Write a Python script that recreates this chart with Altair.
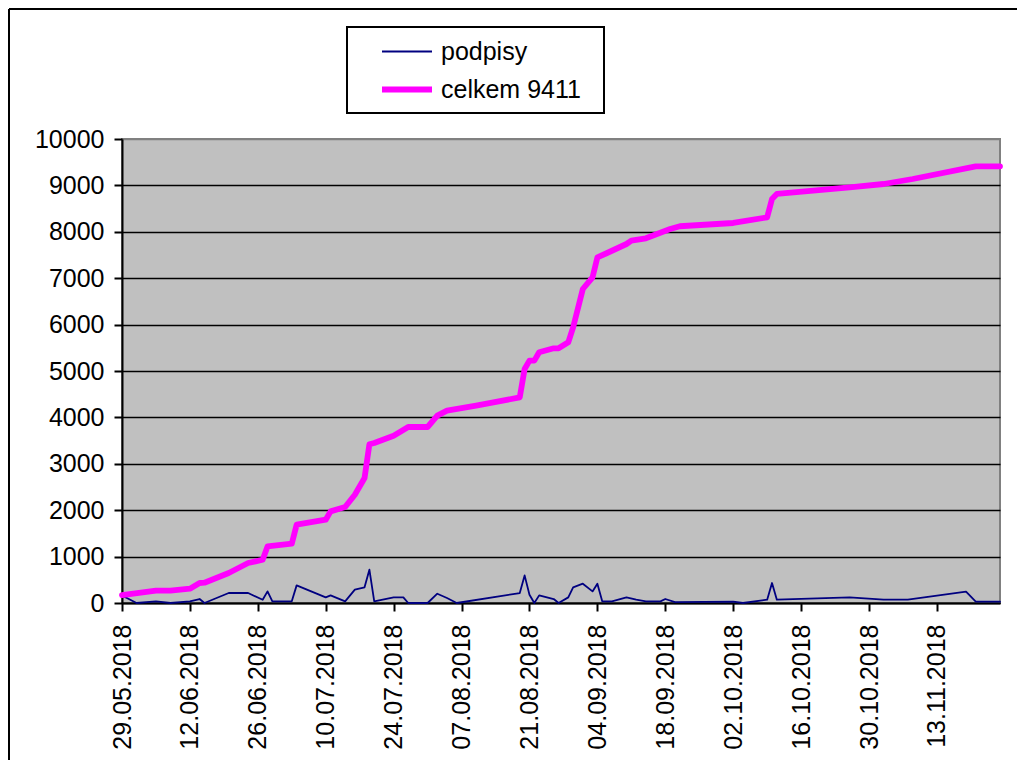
import altair as alt
import pandas as pd

FONT = "Liberation Sans, Arial, sans-serif"

series_names = ["podpisy", "celkem 9411"]
series_colors = ["#000080", "#FF00FF"]
series_widths = [1.8, 5.8]

podpisy_dates = [
    "2018-05-29", "2018-05-30", "2018-06-01", "2018-06-05", "2018-06-08", "2018-06-12",
    "2018-06-14", "2018-06-15", "2018-06-20", "2018-06-24", "2018-06-27", "2018-06-28",
    "2018-06-29", "2018-07-03", "2018-07-04", "2018-07-10", "2018-07-11", "2018-07-14",
    "2018-07-16", "2018-07-18", "2018-07-19", "2018-07-20", "2018-07-24", "2018-07-26",
    "2018-07-27", "2018-07-31", "2018-08-02", "2018-08-04", "2018-08-06", "2018-08-19",
    "2018-08-20", "2018-08-21", "2018-08-22", "2018-08-23", "2018-08-26", "2018-08-27",
    "2018-08-29", "2018-08-30", "2018-09-01", "2018-09-03", "2018-09-04", "2018-09-05",
    "2018-09-07", "2018-09-10", "2018-09-12", "2018-09-14", "2018-09-17", "2018-09-18",
    "2018-09-20", "2018-10-02", "2018-10-04", "2018-10-09", "2018-10-10", "2018-10-11",
    "2018-10-26", "2018-11-02", "2018-11-07", "2018-11-19", "2018-11-21", "2018-11-26",
]
podpisy_values = [
    160, 108, 0, 36, 0, 36,
    86, 0, 215, 215, 71, 250,
    36, 36, 380, 121, 164, 36,
    287, 337, 718, 36, 121, 121,
    0, 0, 200, 108, 0, 215,
    595, 179, 0, 164, 86, 0,
    121, 337, 416, 250, 416, 36,
    36, 121, 71, 36, 36, 86,
    20, 30, 0, 71, 431, 71,
    121, 71, 71, 244, 28, 28,
]

celkem_dates = [
    "2018-05-29", "2018-06-05", "2018-06-08", "2018-06-12", "2018-06-14", "2018-06-15",
    "2018-06-20", "2018-06-24", "2018-06-27", "2018-06-28", "2018-07-03", "2018-07-04",
    "2018-07-10", "2018-07-11", "2018-07-14", "2018-07-16", "2018-07-18", "2018-07-19",
    "2018-07-20", "2018-07-24", "2018-07-27", "2018-07-31", "2018-08-02", "2018-08-04",
    "2018-08-10", "2018-08-19", "2018-08-20", "2018-08-21", "2018-08-22", "2018-08-23",
    "2018-08-26", "2018-08-27", "2018-08-29", "2018-08-30", "2018-09-01", "2018-09-03",
    "2018-09-04", "2018-09-06", "2018-09-10", "2018-09-11", "2018-09-14", "2018-09-19",
    "2018-09-21", "2018-10-02", "2018-10-09", "2018-10-10", "2018-10-11", "2018-10-26",
    "2018-11-02", "2018-11-08", "2018-11-21", "2018-11-26",
]
celkem_values = [
    170, 265, 265, 308, 431, 437,
    646, 862, 933, 1220, 1278, 1688,
    1795, 1975, 2069, 2334, 2694, 3420,
    3448, 3606, 3793, 3793, 4037, 4145,
    4253, 4432, 5043, 5223, 5223, 5403,
    5489, 5489, 5618, 5941, 6767, 7019,
    7450, 7543, 7737, 7809, 7860, 8060,
    8120, 8190, 8312, 8707, 8815, 8958,
    9030, 9138, 9411, 9411,
]

x_tick_dates = [
    "2018-05-29", "2018-06-12", "2018-06-26", "2018-07-10", "2018-07-24", "2018-08-07",
    "2018-08-21", "2018-09-04", "2018-09-18", "2018-10-02", "2018-10-16", "2018-10-30",
    "2018-11-13",
]
x_domain = ["2018-05-29", "2018-11-26"]
y_ticks = [0, 1000, 2000, 3000, 4000, 5000, 6000, 7000, 8000, 9000, 10000]


def dt(s):
    return alt.DateTime(year=int(s[:4]), month=int(s[5:7]), date=int(s[8:10]), utc=True)


df = pd.concat([
    pd.DataFrame({"date": podpisy_dates, "value": podpisy_values, "series": series_names[0]}),
    pd.DataFrame({"date": celkem_dates, "value": celkem_values, "series": series_names[1]}),
], ignore_index=True)

legend_kw = dict(
    title=None, orient="none", legendX=257, legendY=-100, direction="vertical",
    symbolType="stroke", symbolSize=2500, symbolOffset=0, labelOffset=6,
    labelFont=FONT, labelFontSize=25, labelColor="black", padding=0,
    clipHeight=25, rowPadding=12, labelLimit=400,
)

lines = alt.Chart(df).mark_line(strokeJoin="round", strokeCap="round").encode(
    x=alt.X("date:T",
            scale=alt.Scale(type="utc", domain=[dt(x_domain[0]), dt(x_domain[1])], nice=False),
            axis=alt.Axis(values=[dt(s) for s in x_tick_dates],
                          labelExpr="utcFormat(datum.value, '%d.%m.%Y')",
                          title=None, grid=False, labelAngle=270, labelAlign="right",
                          labelBaseline="middle", labelPadding=13, labelFont=FONT,
                          labelFontSize=25, labelColor="black", labelOverlap=False,
                          labelFlush=False, tickSize=8, tickWidth=2, tickColor="black",
                          domainColor="black", domainWidth=2)),
    y=alt.Y("value:Q",
            scale=alt.Scale(domain=[0, 10000], nice=False, zero=True),
            axis=alt.Axis(values=y_ticks, format="d", title=None, grid=True,
                          gridColor={"condition": {"test": "datum.value === 10000", "value": "#808080"}, "value": "black"},
                          gridWidth=1.7, labelPadding=10, labelFont=FONT, labelFontSize=25,
                          labelColor="black", tickSize=8, tickWidth=2, tickColor="black",
                          domainColor="black", domainWidth=2, labelOverlap=False)),
    color=alt.Color("series:N", scale=alt.Scale(domain=series_names, range=series_colors),
                    legend=alt.Legend(**legend_kw)),
    strokeWidth=alt.StrokeWidth("series:N", scale=alt.Scale(domain=series_names, range=series_widths),
                                legend=alt.Legend(**legend_kw)),
)

frame_df = pd.DataFrame({"k": [0]})
frame_top = alt.Chart(frame_df).mark_rule(color="black", strokeWidth=2).encode(
    x=alt.value(-113), x2=alt.value(895), y=alt.value(-130))
frame_left = alt.Chart(frame_df).mark_rule(color="black", strokeWidth=2).encode(
    x=alt.value(-113), y=alt.value(-130), y2=alt.value(621))
legend_box = alt.Chart(frame_df).mark_rect(fill="white", stroke="black", strokeWidth=2).encode(
    x=alt.value(225), x2=alt.value(482), y=alt.value(-112), y2=alt.value(-26))

chart = alt.layer(legend_box, lines, frame_top, frame_left).properties(
    width=878, height=464,
    padding={"left": 0, "top": 0, "right": 0, "bottom": 0},
    background="white",
).configure_view(
    fill="#C0C0C0", stroke="#808080", strokeWidth=2
)

chart.save("out.html", embed_options={"renderer": "svg", "actions": False})
